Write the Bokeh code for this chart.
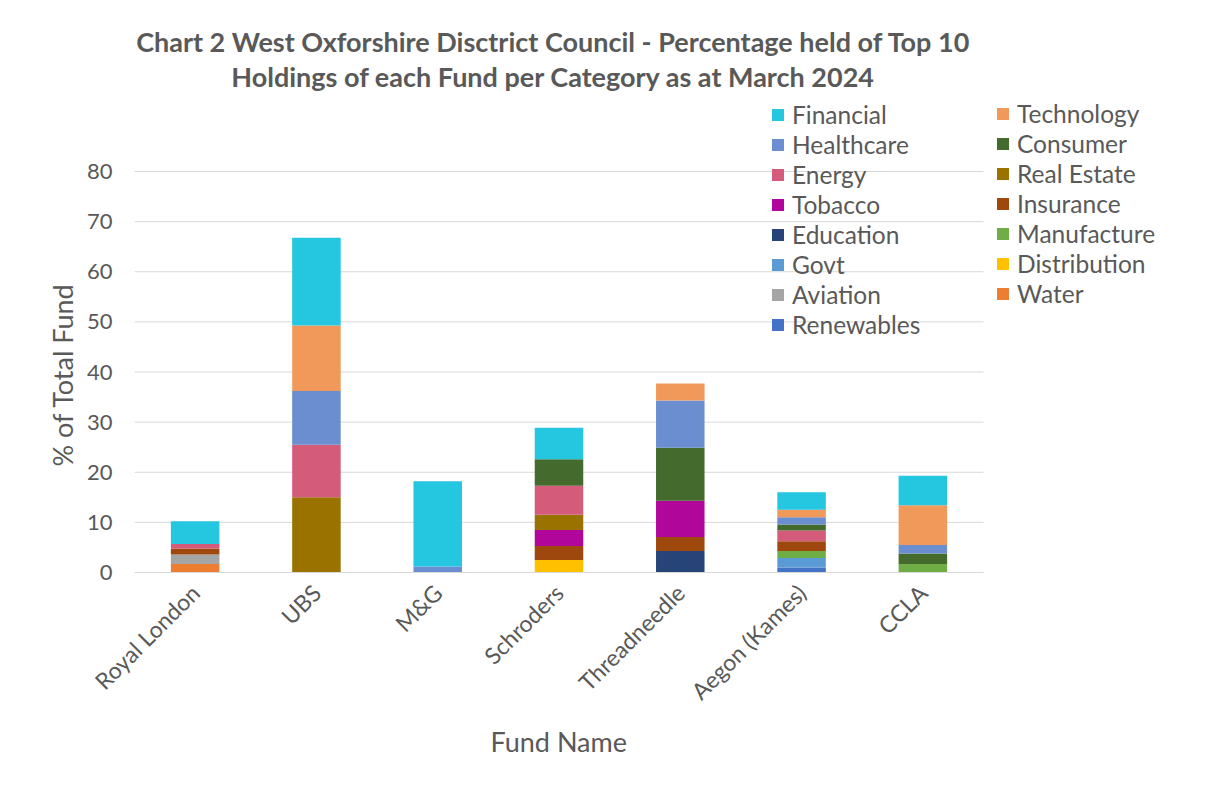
from bokeh.plotting import figure
from bokeh.models import (ColumnDataSource, Range1d, FixedTicker,
                          Legend, LegendItem, Label, Title)
from bokeh.embed import file_html
from bokeh.resources import INLINE
import math

funds = ["Royal London", "UBS", "M&G", "Schroders", "Threadneedle", "Aegon (Kames)", "CCLA"]

# stacking order (bottom to top)
renewables   = [0.0, 0.0, 0.0, 0.0, 0.0, 1.0, 0.0]
water        = [1.7, 0.0, 0.0, 0.0, 0.0, 0.0, 0.0]
aviation     = [1.9, 0.0, 0.0, 0.0, 0.0, 0.0, 0.0]
distribution = [0.0, 0.0, 0.0, 2.5, 0.0, 0.0, 0.0]
govt         = [0.0, 0.0, 0.0, 0.0, 0.0, 1.9, 0.0]
manufacture  = [0.0, 0.0, 0.0, 0.0, 0.0, 1.4, 1.7]
education    = [0.0, 0.0, 0.0, 0.0, 4.3, 0.0, 0.0]
insurance    = [1.2, 0.0, 0.0, 2.8, 2.8, 1.95, 0.0]
tobacco      = [0.0, 0.0, 0.0, 3.2, 7.2, 0.0, 0.0]
real_estate  = [0.0, 15.0, 0.0, 3.0, 0.0, 0.0, 0.0]
energy       = [0.9, 10.5, 0.0, 5.8, 0.0, 2.15, 0.0]
consumer     = [0.0, 0.0, 0.0, 5.3, 10.6, 1.2, 2.1]
healthcare   = [0.0, 10.7, 1.2, 0.0, 9.4, 1.4, 1.7]
technology   = [0.0, 13.1, 0.0, 0.0, 3.4, 1.5, 7.9]
financial    = [4.5, 17.5, 17.0, 6.3, 0.0, 3.5, 5.9]

series_names = ["Renewables", "Water", "Aviation", "Distribution", "Govt", "Manufacture",
                "Education", "Insurance", "Tobacco", "Real Estate", "Energy", "Consumer",
                "Healthcare", "Technology", "Financial"]
series_values = [renewables, water, aviation, distribution, govt, manufacture, education,
                 insurance, tobacco, real_estate, energy, consumer, healthcare, technology,
                 financial]
series_colors = ["#4472C4", "#ED7D31", "#A5A5A5", "#FFC000", "#5B9BD5", "#70AD47",
                 "#264478", "#9E480E", "#B0079A", "#9A7200", "#D45B7A", "#456A2D",
                 "#6A8ECF", "#F1995A", "#24C6E0"]

legend_left = ["Financial", "Healthcare", "Energy", "Tobacco", "Education", "Govt",
               "Aviation", "Renewables"]
legend_right = ["Technology", "Consumer", "Real Estate", "Insurance", "Manufacture",
                "Distribution", "Water"]

y_ticks = [0, 10, 20, 30, 40, 50, 60, 70, 80]

title_lines = ["Chart 2 West Oxforshire Disctrict Council - Percentage held of Top 10",
               "Holdings of each Fund per Category as at March 2024"]
y_label = "% of Total Fund"
x_label = "Fund Name"

xpos = list(range(len(funds)))
data = {"x": xpos}
for n, v in zip(series_names, series_values):
    data[n] = v
source = ColumnDataSource(data)

W, H = 1208, 785
FL, FR, FB = 134, 983, 572
PX_PER_UNIT = (572 - 171) / 80.0
Y_TOP = FB / PX_PER_UNIT  # frame extends to top of canvas
PX_PER_CAT = (FR - FL) / len(funds)
X_START = -0.5
X_END = len(funds) - 0.5 + (W - FR) / PX_PER_CAT  # frame extends to right edge

p = figure(width=W, height=H, x_range=Range1d(X_START, X_END),
           y_range=Range1d(0, Y_TOP),
           output_backend="svg", toolbar_location=None,
           min_border_left=FL, min_border_right=0, min_border_top=0,
           min_border_bottom=H - FB)
p.outline_line_color = None
p.background_fill_color = "white"
p.border_fill_color = "white"
p.xgrid.visible = False
p.ygrid.visible = False

# horizontal gridlines over the category area only
p.segment(x0=[-0.5] * len(y_ticks), x1=[len(funds) - 0.5] * len(y_ticks),
          y0=y_ticks, y1=y_ticks, line_color="#d9d9d9", line_width=1)

renderers = p.vbar_stack(series_names, x="x", width=0.4, source=source,
                         color=series_colors, line_color=None)
rmap = dict(zip(series_names, renderers))

grey = "#595959"
font = "Lato"

p.yaxis.ticker = FixedTicker(ticks=y_ticks)
p.yaxis.bounds = (0, 80)
p.yaxis.axis_line_color = None
p.yaxis.major_tick_line_color = None
p.yaxis.minor_tick_line_color = None
p.yaxis.major_label_text_font = font
p.yaxis.major_label_text_font_size = "22px"
p.yaxis.major_label_text_color = grey
p.yaxis.major_label_standoff = 16

p.xaxis.ticker = FixedTicker(ticks=xpos)
p.xaxis.major_label_overrides = {i: f for i, f in zip(xpos, funds)}
p.xaxis.bounds = (-0.5, len(funds) - 0.5)
p.xaxis.axis_line_color = "#d9d9d9"
p.xaxis.axis_line_width = 1
p.xaxis.major_tick_line_color = None
p.xaxis.minor_tick_line_color = None
p.xaxis.major_label_orientation = math.pi / 4
p.xaxis.major_label_text_font = font
p.xaxis.major_label_text_font_size = "23px"
p.xaxis.major_label_text_color = grey
p.xaxis.major_label_standoff = 10

# axis titles, placed over the plotted category / value area
ylab = Title(text=y_label, align="left", offset=FB - 466,
             text_font=font, text_font_size="27px", text_font_style="normal",
             text_color=grey, standoff=10)
p.add_layout(ylab, "left")
xlab = Title(text=x_label, align="left", offset=490 - FL,
             text_font=font, text_font_size="27px", text_font_style="normal",
             text_color=grey, standoff=10)
p.add_layout(xlab, "below")

ROW = 30.4

def make_legend(names, x_px, top_px):
    items = [LegendItem(label=n, renderers=[rmap[n]]) for n in names]
    h = len(names) * ROW
    lg = Legend(items=items, location=(x_px - FL, FB - (top_px + h)),
                orientation="vertical",
                label_text_font=font, label_text_font_size="24.5px",
                label_text_color=grey, glyph_width=15, glyph_height=15,
                label_standoff=7, spacing=0, padding=0, margin=0,
                border_line_color=None, background_fill_alpha=0,
                label_height=30)
    return lg

p.add_layout(make_legend(legend_left, 770, 96))
p.add_layout(make_legend(legend_right, 995, 96))

for t, yy in zip(title_lines, [41, 76]):
    p.add_layout(Label(x=553 - FL, y=FB - yy, x_units="screen", y_units="screen",
                       text=t, text_align="center", text_baseline="middle",
                       text_font=font, text_font_size="27px", text_font_style="bold",
                       text_color=grey))

open("out.html", "w").write(file_html(p, INLINE))
